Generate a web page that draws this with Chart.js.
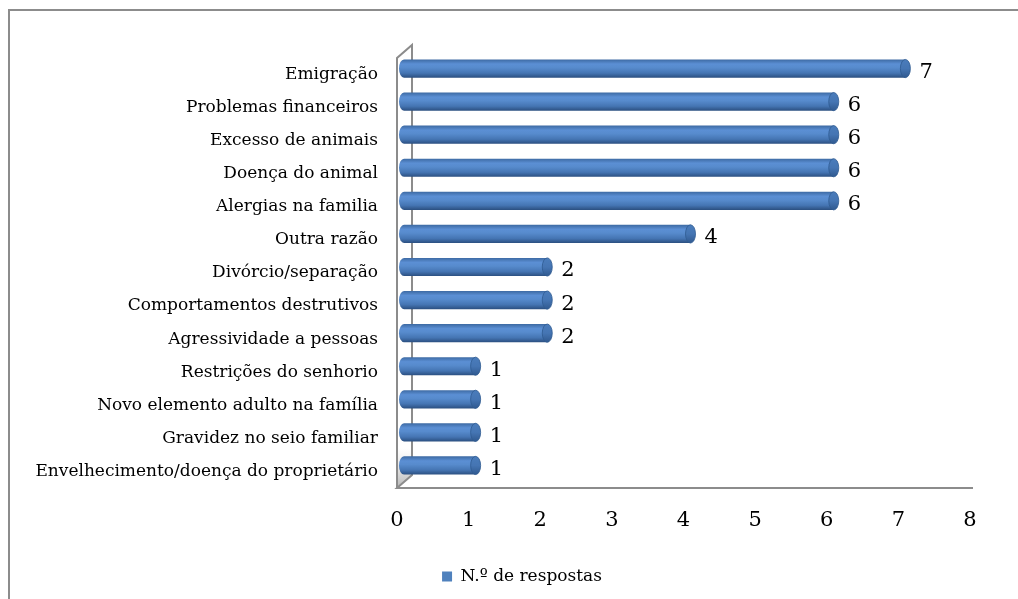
<!DOCTYPE html>
<html lang="pt">
<head>
<meta charset="utf-8">
<title>Razões de abandono</title>
<script src="https://cdn.jsdelivr.net/npm/chart.js@4.4.1/dist/chart.umd.min.js"></script>
<style>
    html, body { margin: 0; padding: 0; background: #fff; }
    #caixa { position: relative; width: 1018px; height: 599px; }
</style>
</head>
<body>
<div id="caixa"><canvas id="graficoRazoes"></canvas></div>
<script>
// Dados do gráfico (de cima para baixo)
const categorias = [
    'Emigração',
    'Problemas financeiros',
    'Excesso de animais',
    'Doença do animal',
    'Alergias na familia',
    'Outra razão',
    'Divórcio/separação',
    'Comportamentos destrutivos',
    'Agressividade a pessoas',
    'Restrições do senhorio',
    'Novo elemento adulto na família',
    'Gravidez no seio familiar',
    'Envelhecimento/doença do proprietário'
];
const respostas = [7, 6, 6, 6, 6, 4, 2, 2, 2, 1, 1, 1, 1];
const nomeSerie = 'N.º de respostas';
const eixoMin = 0;
const eixoMax = 8;

const FONTE = '"DejaVu Serif", "Liberation Serif", serif';
const CINZA = '#8c8c8c';
// deslocamento 3D dos cilindros
const PROF_X = 7;
const PROF_Y = -6;

// Moldura exterior (só topo e esquerda ficam visíveis)
const moldura = {
    id: 'moldura',
    beforeDraw(chart) {
        const ctx = chart.ctx;
        ctx.save();
        ctx.fillStyle = '#fff';
        ctx.fillRect(0, 0, chart.width, chart.height);
        ctx.strokeStyle = CINZA;
        ctx.lineWidth = 2;
        ctx.strokeRect(9, 10, chart.width + 50, chart.height + 50);
        ctx.restore();
    }
};

// A legenda fica centrada na moldura, não na área do canvas
const legendaDeslocada = {
    id: 'legendaDeslocada',
    afterLayout(chart) {
        if (chart.legend) {
            chart.legend.left += 37;
            chart.legend.right += 37;
        }
    }
};

// Paredes 3D do eixo
const paredes = {
    id: 'paredes',
    beforeDatasetsDraw(chart) {
        const ctx = chart.ctx;
        const a = chart.chartArea;
        const dx = 15, dy = -13;
        ctx.save();
        // sombra junto ao chão
        const g = ctx.createLinearGradient(0, a.bottom - 40, 0, a.bottom);
        g.addColorStop(0, 'rgba(200,200,200,0)');
        g.addColorStop(1, 'rgba(150,150,150,0.7)');
        ctx.fillStyle = g;
        ctx.beginPath();
        ctx.moveTo(a.left, a.bottom - 40);
        ctx.lineTo(a.left + dx, a.bottom - 40 + dy);
        ctx.lineTo(a.left + dx, a.bottom + dy);
        ctx.lineTo(a.left, a.bottom);
        ctx.closePath();
        ctx.fill();

        ctx.strokeStyle = CINZA;
        ctx.lineWidth = 2;
        ctx.beginPath();
        ctx.moveTo(a.left, a.bottom);
        ctx.lineTo(a.left, a.top);
        ctx.lineTo(a.left + dx, a.top + dy);
        ctx.lineTo(a.left + dx, a.bottom + dy);
        ctx.lineTo(a.left, a.bottom);
        ctx.lineTo(a.right + 3, a.bottom);
        ctx.stroke();
        ctx.restore();
    }
};

// Cilindros e rótulos de dados
const cilindros = {
    id: 'cilindros',
    afterDatasetsDraw(chart) {
        const ctx = chart.ctx;
        const meta = chart.getDatasetMeta(0);
        ctx.save();
        meta.data.forEach((barra, i) => {
            const x0 = barra.base + PROF_X;
            const x1 = barra.x + PROF_X;
            const cy = barra.y + PROF_Y;
            const h = barra.height;
            const ry = h / 2;
            const rx = 5;
            const topo = cy - ry;

            const g = ctx.createLinearGradient(0, topo, 0, topo + h);
            g.addColorStop(0, '#3d6aa3');
            g.addColorStop(0.25, '#5b8fd4');
            g.addColorStop(0.45, '#578bcd');
            g.addColorStop(0.75, '#4575b3');
            g.addColorStop(1, '#2b4f80');

            // corpo com ponta esquerda arredondada
            ctx.beginPath();
            ctx.moveTo(x1, topo);
            ctx.lineTo(x0, topo);
            ctx.ellipse(x0, cy, rx, ry, 0, -Math.PI / 2, Math.PI / 2, true);
            ctx.lineTo(x1, topo + h);
            ctx.closePath();
            ctx.fillStyle = g;
            ctx.fill();

            // tampa direita
            const gt = ctx.createLinearGradient(0, topo, 0, topo + h);
            gt.addColorStop(0, '#4a7cbb');
            gt.addColorStop(0.5, '#4575b3');
            gt.addColorStop(1, '#30598f');
            ctx.beginPath();
            ctx.ellipse(x1, cy, rx, ry, 0, 0, Math.PI * 2);
            ctx.fillStyle = gt;
            ctx.fill();
            ctx.strokeStyle = '#2f5a91';
            ctx.lineWidth = 0.8;
            ctx.stroke();

            // rótulo
            ctx.fillStyle = '#000';
            ctx.font = '21px ' + FONTE;
            ctx.textAlign = 'left';
            ctx.textBaseline = 'middle';
            ctx.fillText(String(respostas[i]), x1 + rx + 9, barra.y - 2);
        });
        ctx.restore();
    }
};

new Chart(document.getElementById('graficoRazoes'), {
    type: 'bar',
    data: {
        labels: categorias,
        datasets: [{
            label: nomeSerie,
            data: respostas,
            backgroundColor: 'rgba(0,0,0,0)',
            borderWidth: 0,
            barPercentage: 0.55,
            categoryPercentage: 1.0
        }]
    },
    options: {
        indexAxis: 'y',
        responsive: true,
        maintainAspectRatio: false,
        animation: false,
        layout: {
            padding: { left: 0, top: 58, right: 48, bottom: 4 }
        },
        plugins: {
            tooltip: { enabled: false },
            legend: {
                display: true,
                position: 'bottom',
                labels: {
                    boxWidth: 10,
                    boxHeight: 10,
                    padding: 8,
                    color: '#000',
                    font: { family: FONTE, size: 17 },
                    generateLabels: () => [{
                        text: nomeSerie,
                        fillStyle: '#4f81bd',
                        strokeStyle: '#4f81bd',
                        lineWidth: 0,
                        hidden: false,
                        datasetIndex: 0
                    }]
                }
            }
        },
        scales: {
            x: {
                min: eixoMin,
                max: eixoMax,
                ticks: {
                    stepSize: 1,
                    color: '#000',
                    padding: 20,
                    font: { family: FONTE, size: 21 }
                },
                grid: { display: false, drawTicks: false },
                border: { display: false },
                afterFit(scale) { scale.height = 72; }
            },
            y: {
                ticks: {
                    color: '#000',
                    padding: 19,
                    font: { family: FONTE, size: 17 }
                },
                grid: { display: false, drawTicks: false },
                border: { display: false },
                afterFit(scale) { scale.width = 397; }
            }
        }
    },
    plugins: [moldura, legendaDeslocada, paredes, cilindros]
});
</script>
</body>
</html>
